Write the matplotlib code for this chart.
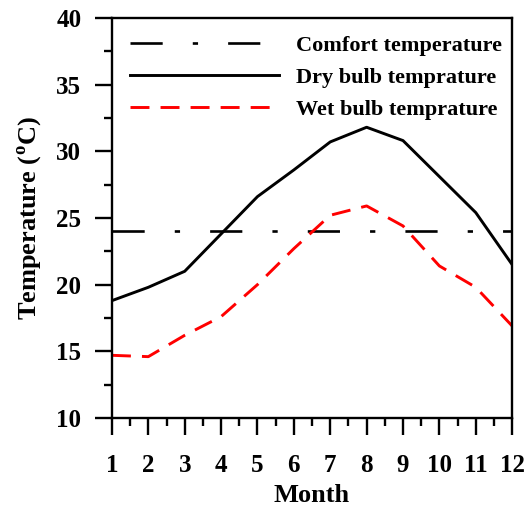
import matplotlib
matplotlib.use('Agg')
import matplotlib.pyplot as plt
from matplotlib.ticker import MultipleLocator

plt.rcParams['font.family'] = 'Liberation Serif'
plt.rcParams['font.weight'] = 'bold'
plt.rcParams['mathtext.fontset'] = 'custom'
plt.rcParams['mathtext.rm'] = 'Liberation Serif:bold'
plt.rcParams['mathtext.bf'] = 'Liberation Serif:bold'

months = [1, 2, 3, 4, 5, 6, 7, 8, 9, 10, 11, 12]
comfort = [24] * 12
dry_bulb = [18.8, 19.8, 21.0, 23.8, 26.6, 28.6, 30.7, 31.8, 30.8, 28.1, 25.4, 21.5]
wet_bulb = [14.7, 14.6, 16.2, 17.6, 20.0, 22.7, 25.2, 25.9, 24.4, 21.4, 19.8, 16.9]


def plot_chart():
    fig = plt.figure(figsize=(5.28, 5.11), dpi=100)
    ax = fig.add_axes([0.212, 0.182, 0.758, 0.783])

    ax.plot(months, comfort, color='black', lw=1.9,
            dashes=(12.2, 11.4, 2.0, 11.4), label='Comfort temperature')
    ax.plot(months, dry_bulb, color='black', lw=2.1, label='Dry bulb temprature')
    ax.plot(months, wet_bulb, color='red', lw=2.1,
            dashes=(6.5, 3.8), label='Wet bulb temprature')

    ax.set_xlim(1, 12)
    ax.set_ylim(10, 40)
    ax.xaxis.set_major_locator(MultipleLocator(1))
    ax.xaxis.set_minor_locator(MultipleLocator(0.5))
    ax.yaxis.set_major_locator(MultipleLocator(5))
    ax.yaxis.set_minor_locator(MultipleLocator(2.5))
    ax.tick_params(which='major', direction='out', length=12, width=1.7,
                   labelsize=18)
    ax.tick_params(which='minor', direction='out', length=6, width=1.7)
    ax.tick_params(axis='x', which='major', pad=14)
    ax.tick_params(axis='y', which='major', pad=10)
    for s in ax.spines.values():
        s.set_linewidth(1.7)

    ax.set_xlabel('Month', fontsize=19, fontweight='bold', labelpad=5)
    ax.set_ylabel(r'Temperature ($^\mathrm{o}$C)', fontsize=19,
                  fontweight='bold', labelpad=9)

    ax.legend(loc='upper left', frameon=False, fontsize=16,
              handlelength=6.7, handletextpad=0.8, labelspacing=0.5,
              borderaxespad=0.4, bbox_to_anchor=(0.0, 1.0))

    fig.savefig('out.png', dpi=100)


if __name__ == '__main__':
    plot_chart()
